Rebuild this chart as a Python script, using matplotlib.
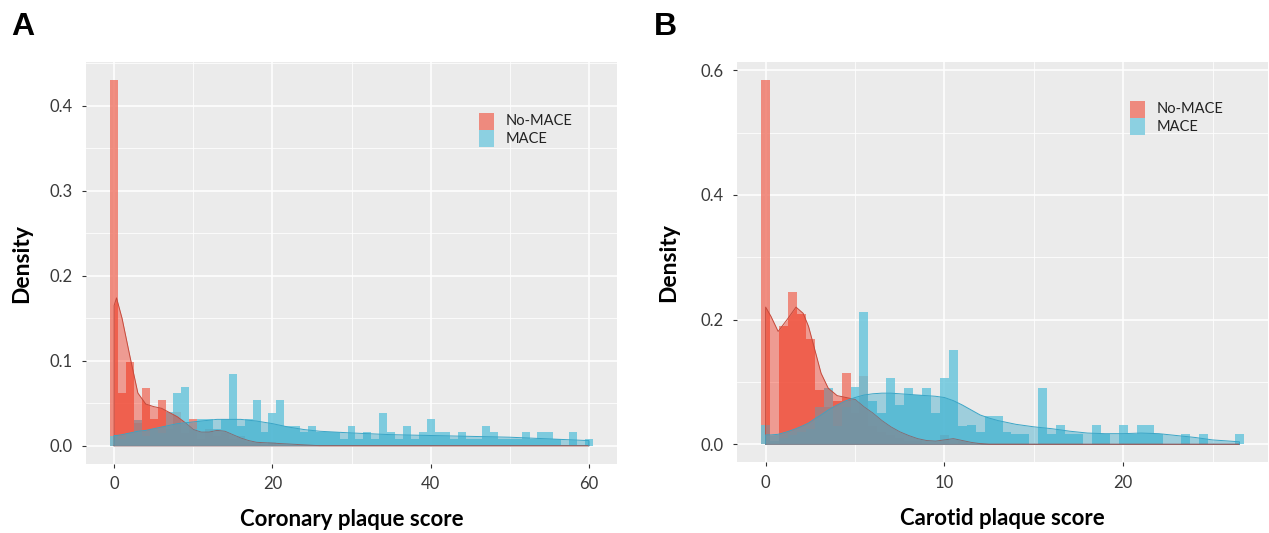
import matplotlib.pyplot as plt
from matplotlib.patches import Rectangle
from matplotlib.ticker import FormatStrFormatter
import numpy as np

plt.rcParams['font.family'] = ['Lato', 'DejaVu Sans']

# ---- Panel A: coronary plaque score, bins of width 1 centred on 0..60 ----
coro_binw = 1.0
coro_nomace = [0.430, 0.062, 0.098, 0.027, 0.068, 0.031, 0.054, 0.020, 0.040, 0.015,
               0.031, 0.008, 0.020, 0.012, 0.015, 0.008, 0.012, 0.004, 0.004, 0.000,
               0.004] + [0.0] * 40
coro_mace = [0.012, 0.008, 0.015, 0.030, 0.012, 0.020, 0.015, 0.040, 0.062, 0.069,
             0.020, 0.031, 0.031, 0.020, 0.031, 0.084, 0.023, 0.031, 0.054, 0.016,
             0.039, 0.054, 0.023, 0.023, 0.016, 0.023, 0.016, 0.016, 0.016, 0.008,
             0.023, 0.008, 0.016, 0.008, 0.039, 0.016, 0.008, 0.023, 0.008, 0.016,
             0.031, 0.016, 0.016, 0.008, 0.016, 0.008, 0.008, 0.023, 0.016, 0.008,
             0.008, 0.008, 0.016, 0.008, 0.016, 0.016, 0.008, 0.000, 0.016, 0.000,
             0.008]
coro_dx = [0, 0.3, 1, 2, 3, 4, 5, 6, 7, 8, 9, 10, 11, 12, 13, 14, 15, 16, 17, 18,
           20, 22, 24, 26, 28, 30, 35, 40, 45, 50, 55, 60]
coro_dens_nomace = [0.165, 0.174, 0.150, 0.105, 0.062, 0.049, 0.046, 0.044, 0.039, 0.034,
                    0.027, 0.019, 0.016, 0.016, 0.018, 0.017, 0.013, 0.009, 0.006, 0.004,
                    0.003, 0.002, 0.001, 0.0, 0.0, 0.0, 0.0, 0.0, 0.0, 0.0, 0.0, 0.0]
coro_dens_mace = [0.012, 0.012, 0.013, 0.015, 0.017, 0.018, 0.020, 0.022, 0.024, 0.026,
                  0.027, 0.028, 0.029, 0.030, 0.031, 0.031, 0.031, 0.031, 0.030, 0.029,
                  0.026, 0.022, 0.019, 0.017, 0.016, 0.015, 0.013, 0.012, 0.011, 0.010,
                  0.008, 0.006]

# ---- Panel B: carotid plaque score, bins of width 0.5 centred on 0..26.5 ----
caro_binw = 0.5
caro_nomace = [0.584, 0.000, 0.189, 0.245, 0.209, 0.169, 0.087, 0.060, 0.070, 0.115,
               0.050, 0.110, 0.030, 0.020, 0.015, 0.010, 0.005, 0.005, 0.000, 0.000,
               0.015, 0.000, 0.005] + [0.0] * 31
caro_mace = [0.031, 0.005, 0.010, 0.015, 0.020, 0.025, 0.060, 0.090, 0.030, 0.060,
             0.092, 0.212, 0.070, 0.050, 0.106, 0.063, 0.091, 0.079, 0.091, 0.050,
             0.106, 0.152, 0.030, 0.031, 0.020, 0.045, 0.045, 0.020, 0.016, 0.016,
             0.000, 0.091, 0.016, 0.031, 0.016, 0.016, 0.000, 0.031, 0.016, 0.000,
             0.031, 0.016, 0.031, 0.031, 0.016, 0.000, 0.000, 0.016, 0.000, 0.016,
             0.000, 0.000, 0.000, 0.016]
caro_dx = [0, 0.3, 0.7, 1.2, 1.7, 2.1, 2.4, 2.7, 3.1, 3.5, 4, 4.5, 5, 5.5, 6, 6.5, 7,
           7.5, 8, 8.5, 9, 9.5, 10, 10.5, 11, 11.5, 12, 12.5, 13, 14, 15, 16, 17, 18,
           19, 20, 21, 22, 23, 24, 25, 26.5]
caro_dens_nomace = [0.220, 0.205, 0.181, 0.200, 0.220, 0.210, 0.189, 0.157, 0.114, 0.090,
                    0.078, 0.075, 0.072, 0.060, 0.050, 0.038, 0.028, 0.020, 0.014, 0.009,
                    0.006, 0.005, 0.007, 0.009, 0.006, 0.003, 0.001, 0.0, 0.0, 0.0,
                    0.0, 0.0, 0.0, 0.0, 0.0, 0.0, 0.0, 0.0, 0.0, 0.0, 0.0, 0.0]
caro_dens_mace = [0.015, 0.015, 0.016, 0.020, 0.025, 0.030, 0.034, 0.040, 0.047, 0.055,
                  0.063, 0.070, 0.075, 0.079, 0.081, 0.082, 0.082, 0.081, 0.080, 0.079,
                  0.078, 0.077, 0.075, 0.070, 0.063, 0.055, 0.047, 0.042, 0.038, 0.032,
                  0.028, 0.025, 0.021, 0.018, 0.017, 0.017, 0.018, 0.017, 0.014, 0.011,
                  0.007, 0.004]

groups = ['No-MACE', 'MACE']

RED_BAR, BLUE_BAR = '#EF7363', '#63C4DB'
RED_DENS, BLUE_DENS = '#F31B01', '#22A1C6'
RED_LINE, BLUE_LINE = '#C44A3C', '#3AA5C6'
SLATE = '#7597A6'
LEG_RED, LEG_BLUE = '#EE8A7E', '#8CD0E1'


def draw_panel(ax, binw, h_red, h_blue, dx, d_red, d_blue, xlabel,
               xmajor, xminor, ymajor, yminor, ylabpad, leg_y):
    h_red = np.array(h_red)
    h_blue = np.array(h_blue)
    dx = np.array(dx)
    d_red = np.array(d_red)
    d_blue = np.array(d_blue)
    centers = np.arange(len(h_blue)) * binw

    ax.set_facecolor('#EBEBEB')
    ax.bar(centers[:len(h_red)], h_red, width=binw, color=RED_BAR, alpha=0.8, lw=0, zorder=2)
    ax.bar(centers, h_blue, width=binw, color=BLUE_BAR, alpha=0.8, lw=0, zorder=2)

    ax.fill_between(dx, 0, d_red, color=RED_DENS, alpha=0.38, lw=0, zorder=3)
    ax.plot(np.r_[dx[0], dx, dx[-1], dx[0]], np.r_[0, d_red, 0, 0],
            color=RED_LINE, lw=0.7, zorder=3)
    ax.fill_between(dx, 0, d_blue, color=BLUE_DENS, alpha=0.38, lw=0, zorder=4)
    ax.plot(np.r_[dx[0], dx, dx[-1]], np.r_[0, d_blue, 0],
            color=BLUE_LINE, lw=0.7, zorder=4)
    ax.fill_between(dx, 0, np.minimum(d_red, d_blue), color=SLATE, alpha=0.75, lw=0, zorder=5)

    lo = centers[0] - binw / 2
    hi = centers[-1] + binw / 2
    pad = (hi - lo) * 0.05
    ax.set_xlim(lo - pad, hi + pad)
    top = max(h_red.max(), h_blue.max(), d_red.max(), d_blue.max())
    ax.set_ylim(-0.05 * top, 1.05 * top)

    ax.set_xticks(xmajor)
    ax.set_xticks(xminor, minor=True)
    ax.set_yticks(ymajor)
    ax.set_yticks(yminor, minor=True)
    ax.yaxis.set_major_formatter(FormatStrFormatter('%.1f'))
    ax.set_axisbelow(True)
    ax.grid(which='major', color='white', lw=1.1)
    ax.grid(which='minor', color='white', lw=0.55)
    for s in ax.spines.values():
        s.set_visible(False)
    ax.tick_params(which='major', length=3, width=0.8, color='#333333',
                   labelsize=12, labelcolor='#3A3A3A')
    ax.tick_params(axis='y', pad=7)
    ax.tick_params(axis='x', pad=6)
    ax.tick_params(which='minor', length=0)
    ax.set_xlabel(xlabel, fontsize=16, fontweight='bold', labelpad=12)
    ax.set_ylabel('Density', fontsize=16.5, fontweight='bold', labelpad=ylabpad)

    # legend
    for i, (g, c) in enumerate(zip(groups, [LEG_RED, LEG_BLUE])):
        y0 = leg_y - i * 0.043
        ax.add_patch(Rectangle((0.740, y0), 0.0282, 0.043, transform=ax.transAxes,
                               color=c, lw=0, zorder=6))
        ax.text(0.791, y0 + 0.0215, g, transform=ax.transAxes, fontsize=10.5,
                va='center', ha='left', color='#222222', zorder=6)


fig = plt.figure(figsize=(12.69, 5.33), dpi=100)
axA = fig.add_axes([0.0678, 0.1295, 0.4184, 0.754])
axB = fig.add_axes([0.5808, 0.1323, 0.4184, 0.7514])

draw_panel(axA, coro_binw, coro_nomace, coro_mace, coro_dx, coro_dens_nomace,
           coro_dens_mace, 'Coronary plaque score', [0, 20, 40, 60], [10, 30, 50],
           np.arange(0, 0.41, 0.1), np.arange(0.05, 0.46, 0.1), 12, 0.831)
draw_panel(axB, caro_binw, caro_nomace, caro_mace, caro_dx, caro_dens_nomace,
           caro_dens_mace, 'Carotid plaque score', [0, 10, 20], [5, 15, 25],
           np.arange(0, 0.61, 0.2), np.arange(0.1, 0.61, 0.2), 15, 0.860)

fig.text(11 / 1269, 1 - 35 / 533, 'A', fontsize=23, fontweight='bold',
         family='Liberation Sans', ha='left', va='baseline')
fig.text(654 / 1269, 1 - 35 / 533, 'B', fontsize=23, fontweight='bold',
         family='Liberation Sans', ha='left', va='baseline')

fig.savefig('out.png', dpi=100, facecolor='white')
